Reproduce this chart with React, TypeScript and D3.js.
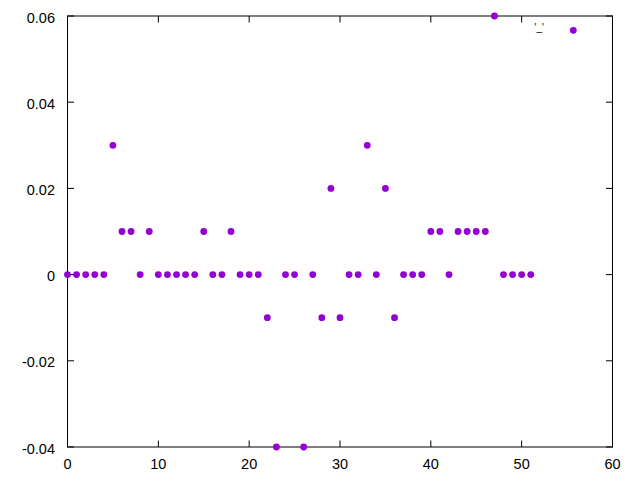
import * as d3 from "d3";

// y value per sample (x is the sample index 0..51)
const values: number[] = [
  0, 0, 0, 0, 0, 0.03, 0.01, 0.01, 0, 0.01,
  0, 0, 0, 0, 0, 0.01, 0, 0, 0.01, 0,
  0, 0, -0.01, -0.04, 0, 0, -0.04, 0, -0.01, 0.02,
  -0.01, 0, 0, 0.03, 0, 0.02, -0.01, 0, 0, 0,
  0.01, 0.01, 0, 0.01, 0.01, 0.01, 0.01, 0.06, 0, 0,
  0, 0,
];
const xTicks = [0, 10, 20, 30, 40, 50, 60];
const yTicks = [-0.04, -0.02, 0, 0.02, 0.04, 0.06];
const yTickLabels = ["-0.04", "-0.02", "0", "0.02", "0.04", "0.06"];
const keyTitle = "'_'";

const width = 640;
const height = 480;
const margin = { top: 16, right: 27.5, bottom: 33, left: 67.5 };
const color = "#9400d3";
const font = "'Liberation Sans', Arial, sans-serif";
const tickLen = 6.5;

export default function App() {
  const x = d3.scaleLinear().domain([0, 60]).range([margin.left, width - margin.right]);
  const y = d3.scaleLinear().domain([-0.04, 0.06]).range([height - margin.bottom, margin.top]);
  const [x0, x1] = x.range();
  const [y0, y1] = y.range();

  return (
    <svg
      width={width}
      height={height}
      style={{ position: "absolute", left: 0, top: 0, background: "#fff" }}
    >
      {/* inward ticks on all four sides */}
      <g stroke="#000" strokeWidth={1}>
        {xTicks.map((t) => (
          <g key={`xt${t}`}>
            <line x1={x(t)} x2={x(t)} y1={y0} y2={y0 - tickLen} />
            <line x1={x(t)} x2={x(t)} y1={y1} y2={y1 + tickLen} />
          </g>
        ))}
        {yTicks.map((t) => (
          <g key={`yt${t}`}>
            <line x1={x0} x2={x0 + tickLen} y1={y(t)} y2={y(t)} />
            <line x1={x1} x2={x1 - tickLen} y1={y(t)} y2={y(t)} />
          </g>
        ))}
      </g>

      <rect x={x0} y={y1} width={x1 - x0} height={y0 - y1} fill="none" stroke="#000" strokeWidth={1} />

      <g fontFamily={font} fontSize={14.5} fill="#000">
        {xTicks.map((t) => (
          <text key={`xl${t}`} x={x(t)} y={y0 + 22.3} textAnchor="middle">
            {t}
          </text>
        ))}
        {yTicks.map((t, i) => (
          <text key={`yl${t}`} x={x0 - 12.5} y={y(t) + 6.6} textAnchor="end">
            {yTickLabels[i]}
          </text>
        ))}
      </g>

      {/* key */}
      <text x={544} y={31} textAnchor="end" fontFamily={font} fontSize={10} fill="#000">
        {keyTitle}
      </text>
      <circle cx={573.3} cy={30.3} r={3.4} fill={color} />

      <g fill={color}>
        {values.map((v, i) => (
          <circle key={i} cx={x(i)} cy={y(v)} r={3.4} />
        ))}
      </g>
    </svg>
  );
}
